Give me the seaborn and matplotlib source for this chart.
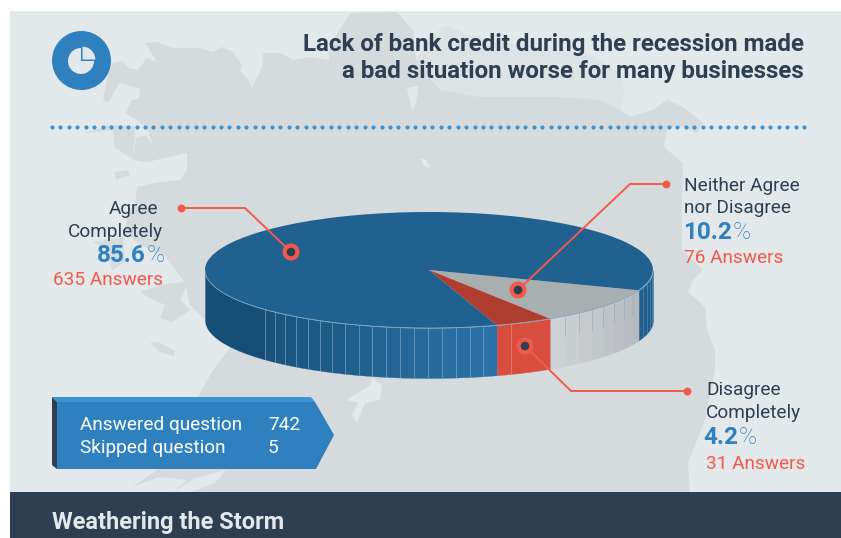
import numpy as np
import matplotlib
matplotlib.use("Agg")
import matplotlib.pyplot as plt
from matplotlib.patches import Polygon, Circle, Wedge, Rectangle
import seaborn as sns

# Survey results
categories = ["Neither Agree\nnor Disagree", "Disagree\nCompletely", "Agree\nCompletely"]
shares = [10.2, 4.2, 85.6]
answers = [76, 31, 635]
summary_labels = ["Answered question", "Skipped question"]
summary_values = [742, 5]
title_lines = ["Lack of bank credit during the recession made",
               "a bad situation worse for many businesses"]
footer = "Weathering the Storm"

# Palette
INK = "#2E3F52"
BLUE = "#2E80BF"
BLUE_LIGHT = "#3A94D4"
CORAL = "#F2594B"
PAPER = "#E3E8EB"
LAND = "#D5DADD"
LAND_PALE = "#DDE2E5"
TOP_COLORS = ["#A9AEB1", "#B03E30", "#20618F"]

sns.set_theme(style="white")
plt.rcParams["font.family"] = ["Roboto", "DejaVu Sans"]

W, H = 841, 538
fig = plt.figure(figsize=(W / 100, H / 100), dpi=100, facecolor="white")

# Backdrop axes measured in pixels, origin at the top left
bg = fig.add_axes([0, 0, 1, 1], zorder=0)
bg.set_xlim(0, W)
bg.set_ylim(H, 0)
bg.axis("off")
bg.add_patch(Rectangle((10, 11), W - 10, 482, fc=PAPER, ec="none"))

# Coastline silhouette behind the chart
land = [(145, 43), (157, 42), (173, 48), (200, 48), (213, 52), (222, 47), (233, 52), (242, 65),
        (240, 70), (250, 82), (252, 90), (253, 85), (262, 68), (263, 53), (280, 53), (293, 60),
        (310, 57), (330, 60), (328, 53), (333, 40), (350, 13), (397, 12), (413, 30), (416, 60),
        (440, 90), (480, 97), (523, 97), (560, 97), (600, 100), (620, 110), (630, 117), (653, 110),
        (667, 100), (683, 107), (703, 123), (697, 133), (677, 125), (667, 130), (664, 147),
        (683, 163), (682, 200), (682, 250), (703, 270), (693, 280), (688, 292), (705, 307),
        (707, 330), (715, 350), (715, 370), (705, 420), (688, 463), (690, 493), (172, 493),
        (187, 480), (160, 477), (132, 487), (165, 465), (200, 393), (213, 370), (230, 348),
        (205, 320), (190, 305), (185, 283), (165, 255), (140, 245), (125, 232), (128, 212),
        (135, 203), (137, 187), (155, 183), (180, 180), (187, 170), (187, 153), (147, 162),
        (133, 160), (130, 157), (115, 148), (113, 130), (83, 133), (112, 125), (137, 127),
        (147, 128), (137, 120), (125, 113), (132, 100), (147, 98), (138, 117), (140, 88),
        (132, 87), (120, 82), (108, 103), (103, 100), (110, 65), (122, 60), (128, 68), (138, 70),
        (147, 58), (157, 62)]
bg.add_patch(Polygon(land, closed=True, fc=LAND, ec="none"))

# Paler upper peninsula
pale = [(416, 60), (430, 38), (445, 25), (470, 35), (520, 45), (587, 53), (620, 73), (625, 90),
        (620, 110), (600, 100), (560, 97), (523, 97), (480, 97), (440, 90)]
bg.add_patch(Polygon(pale, closed=True, fc=LAND_PALE, ec="none"))

# Water and smaller land pieces laid over the silhouette
inlets = [[(135, 123), (147, 128), (154, 148), (146, 135), (136, 138), (133, 160)],
          [(347, 400), (370, 385), (372, 378), (382, 385), (380, 400), (365, 403), (357, 423),
           (352, 415), (358, 403)],
          [(407, 88), (418, 86), (416, 104), (412, 110)],
          [(420, 158), (426, 160), (431, 168), (424, 166)],
          [(172, 493), (195, 478), (226, 470), (216, 482), (190, 493)]]
for piece in inlets:
    bg.add_patch(Polygon(piece, closed=True, fc=PAPER, ec="none"))
islands = [[(140, 292), (160, 285), (182, 282), (188, 283), (180, 300), (190, 310), (172, 322),
            (160, 318), (165, 305), (150, 298)],
           [(150, 343), (158, 342), (175, 351), (174, 356), (160, 352)],
           [(115, 172), (128, 170), (130, 175), (116, 180)],
           [(93, 242), (123, 238), (125, 262), (112, 270), (108, 250)]]
for piece in islands:
    bg.add_patch(Polygon(piece, closed=True, fc=LAND, ec="none"))

# Footer band
bg.add_patch(Rectangle((10, 492), W - 10, H - 492, fc=INK, ec="none"))
bg.text(52, 529, footer, color=PAPER, fontsize=17, fontweight="bold", va="baseline", ha="left")

# Round pie icon
bg.add_patch(Circle((81.5, 60.5), 29.5, fc=BLUE, ec="none"))
bg.add_patch(Wedge((81, 61), 13, 0, 270, fc=PAPER, ec="none"))
bg.add_patch(Wedge((82.5, 59.5), 12.8, 270, 360, fc=PAPER, ec="none"))

# Heading
for line, base in zip(title_lines, [51, 78]):
    bg.text(804, base, line, color=INK, fontsize=17.4, fontweight="bold", ha="right", va="baseline")

# Dotted rule
dot_x = np.arange(52, 808, 8.45)
bg.scatter(dot_x, np.full(len(dot_x), 126.5), s=9, color=BLUE_LIGHT, linewidths=0)

# Pie: top face from the shares, with the drum wall drawn underneath
FACE_B = 58.0
DEPTH = 50.0 / FACE_B
START = -20.5
pie_ax = fig.add_axes([205 / W, 1 - 378 / H, 448 / W, 166 / H], zorder=1)
spans = np.array(shares) * 3.6
edges = START - np.concatenate([[0], np.cumsum(spans)])
neither_a, disagree_a = edges[1], edges[2]


def wall(a0, a1, color):
    t = np.radians(np.linspace(a0, a1, 40))
    pie_ax.fill_between(np.cos(t), np.sin(t), np.sin(t) - DEPTH, color=color, lw=0.2)


def seam(angle, color, lw, alpha=1.0, reach=1.0):
    r = np.radians(angle)
    pie_ax.plot([np.cos(r)] * 2, [np.sin(r), np.sin(r) - reach * DEPTH],
                color=color, lw=lw, alpha=alpha)


# Blue wall steps one percent at a time up to the red slice
front_end = disagree_a + 360
steps = np.arange(front_end, 220, -3.6)
ramp = sns.blend_palette(["#2B72A8", "#185178"], len(steps))
wall(180, steps[-1], "#164E75")
for i, colour in enumerate(ramp[:-1]):
    wall(steps[i + 1], steps[i], colour)

wall(neither_a + 360, front_end, "#D94D3E")

# Grey wall
grey_steps = np.linspace(neither_a, START, 9)
grey_ramp = sns.blend_palette(["#CDD1D4", "#B4B9BD"], 8)
for i, colour in enumerate(grey_ramp):
    wall(grey_steps[i], grey_steps[i + 1], colour)

# Right-hand blue wall
right_steps = np.arange(START, 0, 3.6)
wall(START, 0, "#215F8F")

for a in steps[1:]:
    seam(a, "#A9C2D4", 0.55, alpha=0.55)
for a in grey_steps[1:-1]:
    seam(a, "#8FA8BA", 0.55, alpha=0.7, reach=0.4)
for a in right_steps[1:]:
    seam(a, "#4F86AE", 0.5)
seam(front_end + (neither_a + 360 - front_end) * 0.25, "#E8806F", 0.6)

pie_ax.pie(shares, startangle=START, counterclock=False, colors=TOP_COLORS, radius=1,
           wedgeprops={"linewidth": 0})
t = np.radians(np.linspace(180, 360, 200))
pie_ax.plot(np.cos(t), np.sin(t), color="#7FA6C2", lw=0.6)
pie_ax.set_xlim(-1, 1)
pie_ax.set_ylim(-1 - DEPTH, 1)
pie_ax.set_aspect("auto")
pie_ax.axis("off")

# Overlay for callouts and labels, again in pixels
fg = fig.add_axes([0, 0, 1, 1], zorder=2)
fg.set_xlim(0, W)
fg.set_ylim(H, 0)
fg.axis("off")
fg.patch.set_alpha(0)

callouts = [[(666, 184), (630, 184), (518, 290)],
            [(687, 391), (571, 391), (525, 346)],
            [(181, 208), (245, 208), (291, 252)]]
for path in callouts:
    xs, ys = zip(*path)
    fg.plot(xs, ys, color=CORAL, lw=1.4, solid_joinstyle="miter", zorder=3)
    fg.scatter(xs[0], ys[0], s=32, color=CORAL, linewidths=0, zorder=3)
    fg.add_patch(Circle(path[-1], 8.5, fc=CORAL, ec="none", zorder=4))
    fg.add_patch(Circle(path[-1], 4.3, fc=INK, ec="none", zorder=5))

LABEL = 13.7
SHARE = 17.5
PCT = 17.5
# Neither Agree nor Disagree, left aligned
a, b = categories[0].split("\n")
fg.text(684, 191, a, color=INK, fontsize=LABEL, va="baseline")
fg.text(684, 213, b, color=INK, fontsize=LABEL, va="baseline")
fg.text(732, 239, f"{shares[0]}", color=BLUE, fontsize=SHARE, fontweight="bold", ha="right", va="baseline")
fg.text(733, 239, "%", color=BLUE, fontsize=PCT, fontweight="light", va="baseline")
fg.text(684, 263, f"{answers[0]} Answers", color=CORAL, fontsize=LABEL, va="baseline")

# Disagree Completely, left aligned
a, b = categories[1].split("\n")
fg.text(706, 395, a, color=INK, fontsize=LABEL, va="baseline")
fg.text(706, 418, b, color=INK, fontsize=LABEL, va="baseline")
fg.text(738, 444, f"{shares[1]}", color=BLUE, fontsize=SHARE, fontweight="bold", ha="right", va="baseline")
fg.text(739, 444, "%", color=BLUE, fontsize=PCT, fontweight="light", va="baseline")
fg.text(706, 469, f"{answers[1]} Answers", color=CORAL, fontsize=LABEL, va="baseline")

# Agree Completely, right aligned
a, b = categories[2].split("\n")
fg.text(158, 214, a, color=INK, fontsize=LABEL, ha="right", va="baseline")
fg.text(163, 237, b, color=INK, fontsize=LABEL, ha="right", va="baseline")
fg.text(146, 262, f"{shares[2]}", color=BLUE, fontsize=SHARE, fontweight="bold", ha="right", va="baseline")
fg.text(147, 262, "%", color=BLUE, fontsize=PCT, fontweight="light", va="baseline")
fg.text(163, 285, f"{answers[2]} Answers", color=CORAL, fontsize=LABEL, ha="right", va="baseline")

# Summary tag
fg.add_patch(Polygon([(57, 402), (315, 402), (334, 435), (316, 469), (57, 469)], fc=BLUE, ec="none"))
fg.add_patch(Polygon([(52, 397), (311, 397), (315, 402), (57, 402)], fc=BLUE_LIGHT, ec="none"))
fg.add_patch(Polygon([(52, 397), (57, 402), (57, 469), (52, 465)], fc=INK, ec="none"))
for label, value, base in zip(summary_labels, summary_values, [430, 453]):
    fg.text(80, base, label, color="white", fontsize=LABEL, va="baseline")
    fg.text(268, base, str(value), color="white", fontsize=LABEL, va="baseline")

fig.savefig("out.png", dpi=100, facecolor="white")
